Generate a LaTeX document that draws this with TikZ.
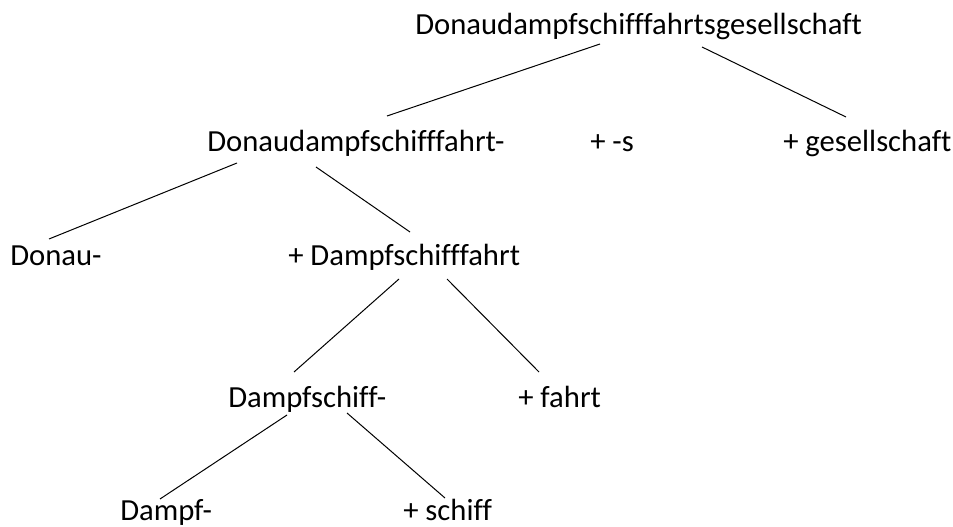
\documentclass[tikz,border=0pt]{standalone}
\usepackage{fontspec}
\setmainfont{Carlito}[Ligatures=NoCommon]
\usetikzlibrary{calc}
\begin{document}
\begin{tikzpicture}[x=0.75pt,y=-0.75pt,
  word/.style={anchor=base west, inner sep=0pt, text=black,
    font=\fontsize{23}{27}\selectfont},
  branch/.style={line width=0.75pt, black}]
\useasboundingbox (0,0) rectangle (953,527);

% words of the compound, one row per level
\node[word] (root)   at (415,35)  {Donaudampfschifffahrtsgesellschaft};
\node[word] (dsf)    at (207,152) {Donaudampfschifffahrt-};
\node[word] (s)      at (590,152) {+ -s};
\node[word] (ges)    at (783,152) {+ gesellschaft};
\node[word] (donau)  at (10,266)  {Donau-};
\node[word] (dsff)   at (288,266) {+ Dampfschifffahrt};
\node[word] (dschf)  at (228,407) {Dampfschiff-};
\node[word] (fahrt)  at (518,407) {+ fahrt};
\node[word] (dampf)  at (120,520) {Dampf-};
\node[word] (schiff) at (403,520) {+ schiff};

% branches of the split
\draw[branch] ($(root.base west)+(185,9)$)   -- ($(dsf.base west)+(180,-36)$);
\draw[branch] ($(root.base west)+(287,12)$)  -- ($(ges.base west)+(63,-35)$);
\draw[branch] ($(dsf.base west)+(30,11)$)    -- ($(donau.base west)+(39,-27)$);
\draw[branch] ($(dsf.base west)+(109,15)$)   -- ($(dsff.base west)+(122,-34)$);
\draw[branch] ($(dsff.base west)+(111,13)$)  -- ($(dschf.base west)+(66,-35)$);
\draw[branch] ($(dsff.base west)+(159,13)$)  -- ($(fahrt.base west)+(21,-35)$);
\draw[branch] ($(dschf.base west)+(59,8)$)   -- ($(dampf.base west)+(40,-21)$);
\draw[branch] ($(dschf.base west)+(119,6)$)  -- ($(schiff.base west)+(42,-22)$);
\end{tikzpicture}
\end{document}
